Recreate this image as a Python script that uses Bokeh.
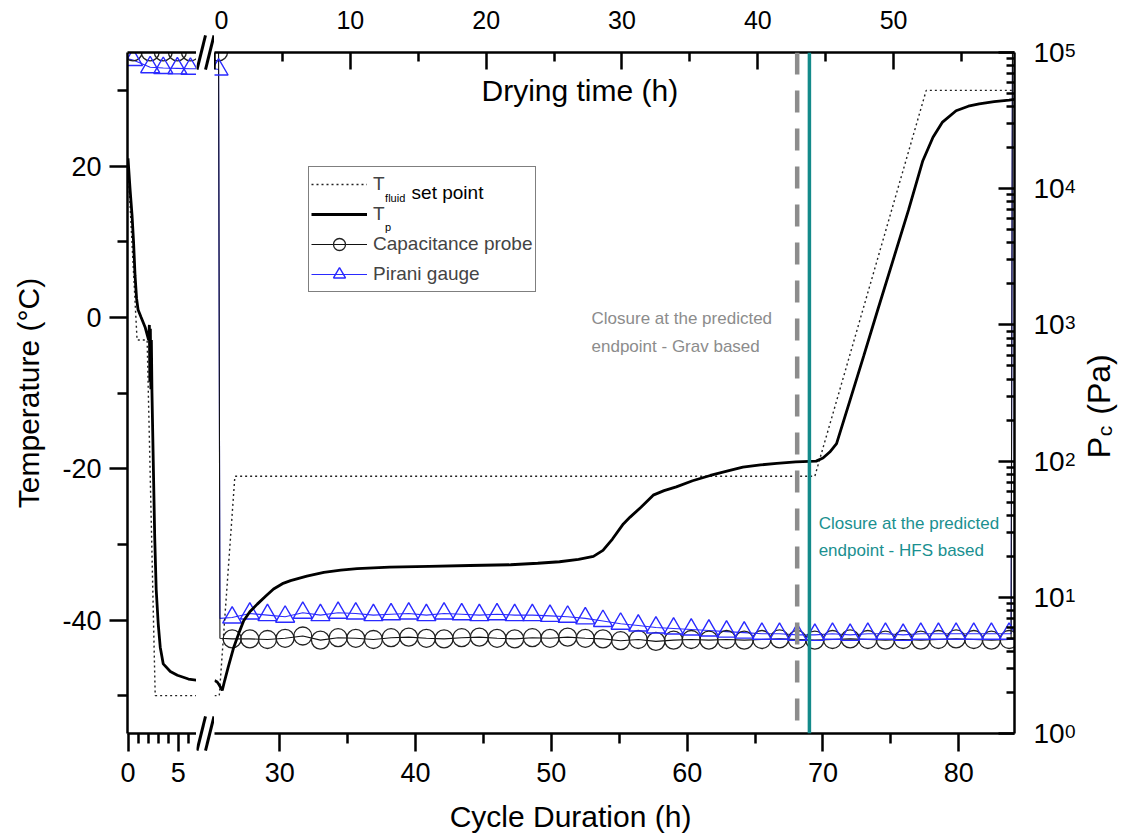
import math

from bokeh.embed import file_html
from bokeh.layouts import column, row
from bokeh.models import (FixedTicker, Label, Legend, LegendItem, LinearAxis, LogAxis,
                          LogScale, Range1d, Span)
from bokeh.plotting import figure
from bokeh.resources import INLINE

FONT = "Liberation Sans"
BLUE = "#2a2aff"
TEAL = "#138a8a"
TEAL_TEXT = "#1a9090"
GRAY = "#8c8c8c"

# ---------------------------------------------------------------- data
# Freezing part of the cycle (cycle duration, h)
freeze_tp_t = [0.0, 0.2, 0.4, 0.55, 0.7, 0.85, 1.0, 1.3, 1.7, 1.9, 2.05, 2.12, 2.17,
               2.22, 2.27, 2.32, 2.38, 2.45, 2.55, 2.65, 2.8, 3.0, 3.2, 3.5, 4.2, 4.9,
               6.0, 7.0]
freeze_tp_v = [21.0, 17.0, 13.5, 10.0, 5.5, 2.5, 1.0, 0.0, -1.3, -2.3, -3.0, -1.0, -8.5,
               -1.5, -9.5, -3.0, -10.0, -15.0, -22.0, -29.0, -36.0, -40.5, -43.6, -45.8,
               -46.8, -47.3, -47.8, -48.0]
freeze_sp_t = [0.0, 0.9, 1.9, 2.7, 7.0]
freeze_sp_v = [20.0, -3.0, -3.0, -50.0, -50.0]

freeze_pc_t = [0.5, 2.2, 3.5, 4.9, 6.2]
freeze_cap = [101000, 101000, 101000, 101000, 101000]
freeze_pir = [88000, 78000, 77000, 76500, 76000]
freeze_edge_t = [0.0, 7.0]
freeze_edge_cap = [101000, 101000]
freeze_edge_pir = [90000, 76000]

# Drying part of the cycle (cycle duration, h)
dry_tp_t = [25.2, 25.4, 25.55, 25.77, 25.95, 26.2, 26.62, 27.0, 27.35, 27.8, 28.35, 29.0,
            29.55, 30.2, 30.8, 32.0, 33.25, 34.5, 35.7, 38.1, 41.0, 44.0, 47.0, 49.0,
            50.6, 52.0, 53.1, 53.8, 54.5, 55.3, 55.8, 56.6, 57.5, 58.3, 59.2, 60.4,
            61.7, 63.0, 64.1, 65.4, 66.6, 68.0, 69.5, 70.0, 70.5, 71.0, 72.0, 73.0,
            74.0, 75.15, 76.3, 77.35, 78.1, 78.8, 79.8, 80.7, 81.5, 82.6, 83.7, 84.1]
dry_tp_v = [-48.0, -48.2, -48.6, -49.3, -48.0, -46.3, -43.6, -41.7, -40.1, -38.9, -37.9,
            -36.8, -35.9, -35.2, -34.8, -34.2, -33.7, -33.4, -33.2, -33.0, -32.9, -32.8,
            -32.7, -32.5, -32.3, -32.0, -31.6, -30.8, -29.3, -27.3, -26.4, -25.1, -23.5,
            -22.9, -22.4, -21.6, -20.9, -20.3, -19.8, -19.5, -19.3, -19.1, -19.0, -18.6,
            -17.8, -16.7, -10.9, -5.1, 0.8, 7.5, 14.2, 20.7, 23.8, 25.8, 27.3, 27.9,
            28.2, 28.5, 28.7, 28.8]
dry_sp_t = [25.2, 25.55, 26.7, 69.4, 77.6, 84.1]
dry_sp_v = [-50.0, -50.0, -21.0, -21.0, 30.0, 30.0]

dry_pc_t = [25.5, 26.5, 27.8, 29.1, 30.4, 31.7, 33.0, 34.3, 35.6, 36.9, 38.2, 39.5, 40.8,
            42.1, 43.4, 44.7, 46.0, 47.3, 48.6, 49.9, 51.2, 52.5, 53.8, 55.1, 56.4, 57.7,
            59.0, 60.3, 61.6, 62.9, 64.2, 65.5, 66.8, 68.1, 69.4, 70.7, 72.0, 73.3, 74.6,
            75.9, 77.2, 78.5, 79.8, 81.1, 82.4, 83.7]
dry_cap = [101000,
           4.95, 4.95, 4.9, 5.0, 5.2, 4.85, 5.05, 5.0, 4.9, 5.05, 5.1, 5.0, 4.95, 5.05,
           5.1, 5.0, 4.95, 5.05, 5.0, 5.1, 5.0, 4.95, 4.8, 4.9, 4.75, 4.85, 4.9, 4.85,
           4.9, 4.85, 4.9, 4.95, 4.9, 4.85, 4.9, 4.95, 4.9, 4.85, 4.9, 4.85, 4.9, 4.95,
           4.9, 4.85, 4.9]
dry_pir = [75000,
           7.1, 7.6, 7.4, 7.2, 7.7, 7.4, 7.7, 7.6, 7.4, 7.5, 7.6, 7.4, 7.6, 7.5, 7.4,
           7.5, 7.4, 7.4, 7.3, 7.2, 7.0, 6.7, 6.4, 6.2, 6.0, 5.9, 5.8, 5.7, 5.6, 5.5,
           5.4, 5.4, 5.3, 5.3, 5.4, 5.3, 5.4, 5.4, 5.3, 5.4, 5.4, 5.4, 5.4, 5.4, 5.4]
# chamber evacuation at the start of drying and venting at the end
step_t = [25.2, 25.6, 83.85, 83.95]
step_cap = [101000, 5.0, 4.9, 101000]
step_pir = [76000, 7.0, 5.4, 80000]

grav_endpoint = 68.1   # h, gravimetric prediction
hfs_endpoint = 69.0    # h, heat-flux-sensor prediction

temp_ticks = [-40, -20, 0, 20]
temp_minor = [-50, -30, -10, 10, 30]
freeze_ticks = [0, 5]
freeze_minor = [1, 2, 3, 4, 6]
cycle_ticks = [30, 40, 50, 60, 70, 80]
cycle_minor = [35, 45, 55, 65, 75]
drying_ticks = [0, 10, 20, 30, 40, 50]
drying_minor = [5, 15, 25, 35, 45, 55]
pc_ticks = [1, 10, 100, 1000, 10000, 100000]
pc_exponents = ["0", "1", "2", "3", "4", "5"]

DRY_START = 25.2
CYCLE_END = 84.1
T_MIN, T_MAX = -55, 35
PC_MIN, PC_MAX = 1.0, 1e5
MAIN_H = 793
TOP_B, BOTTOM_B = 52, 60
FRAME_H = MAIN_H - TOP_B - BOTTOM_B
K_T = (T_MAX - T_MIN) / FRAME_H                                  # deg C per px
DECADE = FRAME_H / (math.log10(PC_MAX) - math.log10(PC_MIN))     # px per decade


def merged(t_a, v_a, t_b, v_b):
    pairs = sorted(zip(list(t_a) + list(t_b), list(v_a) + list(v_b)))
    return [p[0] for p in pairs], [p[1] for p in pairs]


def style_axis(ax, tin, tout, mtin, mtout, size, standoff):
    ax.axis_line_width = 2.5
    ax.axis_line_color = "black"
    ax.major_tick_line_width = 2.5
    ax.minor_tick_line_width = 2.5
    ax.major_tick_line_color = "black"
    ax.minor_tick_line_color = "black"
    ax.major_tick_in = tin
    ax.major_tick_out = tout
    ax.minor_tick_in = mtin
    ax.minor_tick_out = mtout
    ax.major_label_text_font = FONT
    ax.major_label_text_font_size = size
    ax.major_label_text_color = "black"
    ax.major_label_standoff = standoff
    ax.axis_label_text_font = FONT
    ax.axis_label_text_font_style = "normal"
    ax.axis_label_text_color = "black"


def blank_fig(width, height, x_range, y_range, top=0, bottom=0, log_y=False):
    f = figure(width=width, height=height, x_range=x_range, y_range=y_range,
               x_axis_type=None, y_axis_type=None, output_backend="svg",
               toolbar_location=None, min_border_left=0, min_border_right=0,
               min_border_top=top, min_border_bottom=bottom, outline_line_color=None,
               background_fill_color="white", border_fill_color="white")
    if log_y:
        f.y_scale = LogScale()
    # these strips keep their own frame instead of lining up with the panels
    try:
        f.frame_align = False
    except AttributeError:
        pass
    return f


def make_fig(width, x_range, border_left, border_right, extra_x=None):
    kw = dict(width=width, height=MAIN_H, x_range=x_range, y_range=Range1d(T_MIN, T_MAX),
              extra_y_ranges={"pc": Range1d(PC_MIN, PC_MAX)},
              extra_y_scales={"pc": LogScale()},
              x_axis_type=None, y_axis_type=None, output_backend="svg",
              toolbar_location=None, min_border_left=border_left,
              min_border_right=border_right, min_border_top=TOP_B,
              min_border_bottom=BOTTOM_B, outline_line_color=None,
              background_fill_color="white", border_fill_color="white")
    if extra_x:
        kw["extra_x_ranges"] = extra_x
    return figure(**kw)


def draw_series(p, sp_t, sp_v, tp_t, tp_v, pc_t, cap, pir, edge_t, edge_cap, edge_pir):
    cap_lt, cap_lv = merged(pc_t, cap, edge_t, edge_cap)
    pir_lt, pir_lv = merged(pc_t, pir, edge_t, edge_pir)
    r = {}
    r["pir_line"] = p.line(pir_lt, pir_lv, y_range_name="pc", line_color=BLUE,
                           line_width=1.1)
    r["cap_line"] = p.line(cap_lt, cap_lv, y_range_name="pc", line_color="#111111",
                           line_width=1.1)
    r["cap_mark"] = p.scatter(pc_t, cap, y_range_name="pc", marker="circle", size=18,
                              fill_color=None, line_color="#222222", line_width=1.3)
    r["pir_mark"] = p.scatter(pc_t, pir, y_range_name="pc", marker="triangle", size=19,
                              fill_color=None, line_color=BLUE, line_width=1.4)
    r["sp"] = p.line(sp_t, sp_v, line_color="#222222", line_width=1.4, line_dash="2 3")
    r["tp"] = p.line(tp_t, tp_v, line_color="black", line_width=2.8)
    return r


def text(p, x, y, s, size, color="black", align="left", baseline="middle", angle=0.0,
         y_offset=0):
    p.add_layout(Label(x=x, y=y, text=s, text_font=FONT, text_font_size=size,
                       text_color=color, text_align=align, text_baseline=baseline,
                       angle=angle, y_offset=y_offset))


# ---------------------------------------------------------------- freezing panel
left = make_fig(196, Range1d(-0.05, 6.8), 127, 0)
draw_series(left, freeze_sp_t, freeze_sp_v, freeze_tp_t, freeze_tp_v,
            freeze_pc_t, freeze_cap, freeze_pir,
            freeze_edge_t, freeze_edge_cap, freeze_edge_pir)

temp_axis = LinearAxis(ticker=FixedTicker(ticks=temp_ticks, minor_ticks=temp_minor),
                       major_label_overrides={t: str(t) for t in temp_ticks},
                       axis_label="Temperature (\u00b0C)")
style_axis(temp_axis, 0, 18, 0, 10, "27px", 8)
temp_axis.axis_label_text_font_size = "30px"
temp_axis.axis_label_standoff = 14
left.add_layout(temp_axis, "left")

freeze_axis = LinearAxis(ticker=FixedTicker(ticks=freeze_ticks, minor_ticks=freeze_minor))
style_axis(freeze_axis, 0, 18, 0, 10, "27px", 11)
left.add_layout(freeze_axis, "below")

left_top = LinearAxis(ticker=FixedTicker(ticks=[]))
style_axis(left_top, 0, 0, 0, 0, "1px", 0)
left.add_layout(left_top, "above")

# ---------------------------------------------------------------- axis-break strip
# this strip spans 30 px .. 760 px of the page height, in temperature units
gap = blank_fig(18, MAIN_H, Range1d(0, 18),
                Range1d(T_MAX - (760 - TOP_B) * K_T, T_MAX + (TOP_B - 30) * K_T),
                top=30, bottom=MAIN_H - 760)
break_x0 = [0.5, 9.0, 0.5, 9.0]
break_x1 = [9.0, 17.5, 9.0, 17.5]
break_y0 = [32.75, 32.75, -57.25, -57.25]
break_y1 = [37.25, 37.25, -52.75, -52.75]
gap.segment(break_x0, break_y0, break_x1, break_y1, line_color="black", line_width=3)

# ---------------------------------------------------------------- drying panel
right = make_fig(807, Range1d(DRY_START, CYCLE_END), 0, 7,
                 extra_x={"dry": Range1d(0, CYCLE_END - DRY_START)})
rr = draw_series(right, dry_sp_t, dry_sp_v, dry_tp_t, dry_tp_v,
                 dry_pc_t, dry_cap, dry_pir, step_t, step_cap, step_pir)

cycle_axis = LinearAxis(ticker=FixedTicker(ticks=cycle_ticks, minor_ticks=cycle_minor))
style_axis(cycle_axis, 0, 18, 0, 10, "27px", 11)
right.add_layout(cycle_axis, "below")

drying_axis = LinearAxis(x_range_name="dry",
                         ticker=FixedTicker(ticks=drying_ticks, minor_ticks=drying_minor))
style_axis(drying_axis, 17, 0, 9, 0, "25px", 24)
right.add_layout(drying_axis, "above")

pc_minor = [m * 10 ** e for e in range(5) for m in range(2, 10)]
pc_axis = LogAxis(y_range_name="pc",
                  ticker=FixedTicker(ticks=pc_ticks, minor_ticks=pc_minor),
                  major_label_overrides={t: "" for t in pc_ticks})
style_axis(pc_axis, 16, 0, 8, 0, "1px", 0)
right.add_layout(pc_axis, "right")

right.add_layout(Span(location=grav_endpoint, dimension="height", line_color=GRAY,
                      line_width=4.5, line_dash="22 16"))
right.add_layout(Span(location=hfs_endpoint, dimension="height", line_color=TEAL,
                      line_width=3.5))

# subscripts and the rest of the first legend entry (seen through the legend box)
text(right, 37.76, 15.8, "fluid", "11px", baseline="alphabetic")
text(right, 39.71, 16.5, "set point", "19px", baseline="alphabetic")
text(right, 37.76, 12.0, "p", "11px", baseline="alphabetic")

legend = Legend(
    items=[LegendItem(label="T", renderers=[rr["sp"]]),
           LegendItem(label="T", renderers=[rr["tp"]]),
           LegendItem(label="Capacitance probe", renderers=[rr["cap_line"], rr["cap_mark"]]),
           LegendItem(label="Pirani gauge", renderers=[rr["pir_line"], rr["pir_mark"]])],
    location=(94, 441), glyph_width=56, glyph_height=30, label_height=30, spacing=0,
    padding=2, margin=0, label_standoff=6, border_line_color="black", border_line_width=1,
    label_text_font=FONT, label_text_font_size="19px", background_fill_alpha=0.0)
right.add_layout(legend)

text(right, 52.1, 30.0, "Drying time (h)", "30px", align="center")

text(right, 52.96, -0.16, "Closure at the predicted", "17px", GRAY)
text(right, 52.96, -3.86, "endpoint - Grav based", "17px", GRAY)
text(right, 69.68, -27.25, "Closure at the predicted", "17px", TEAL_TEXT)
text(right, 69.68, -30.82, "endpoint - HFS based", "17px", TEAL_TEXT)

# ---------------------------------------------------------------- pressure tick labels + title
# strip covers the full height, with the same log scale as the pressure axis
strip_lo = PC_MIN / 10 ** (BOTTOM_B / DECADE)
strip_hi = PC_MAX * 10 ** (TOP_B / DECADE)
pc_strip = blank_fig(105, MAIN_H, Range1d(0, 105), Range1d(strip_lo, strip_hi), log_y=True)
for tick, expo in zip(pc_ticks, pc_exponents):
    text(pc_strip, 12, tick, "10", "28px")
    text(pc_strip, 43.5, tick, expo, "19px", baseline="alphabetic", y_offset=2)


def pc_page(px):
    """pressure value found at page row px in the pressure strip"""
    return PC_MIN * 10 ** ((TOP_B + FRAME_H - px) / DECADE)


text(pc_strip, 77, pc_page(447), "P", "32px", align="center", angle=math.pi / 2)
text(pc_strip, 83, pc_page(430.5), "c", "21px", align="center", angle=math.pi / 2)
text(pc_strip, 77, pc_page(384), "(Pa)", "32px", align="center", angle=math.pi / 2)

# ---------------------------------------------------------------- bottom axis title
x_title = blank_fig(1126, 838 - MAIN_H, Range1d(0, 1126), Range1d(0, 838 - MAIN_H))
text(x_title, 570, 22, "Cycle Duration (h)", "30px", align="center")

layout = column(row(left, gap, right, pc_strip), x_title)
open("out.html", "w").write(file_html(layout, INLINE))
